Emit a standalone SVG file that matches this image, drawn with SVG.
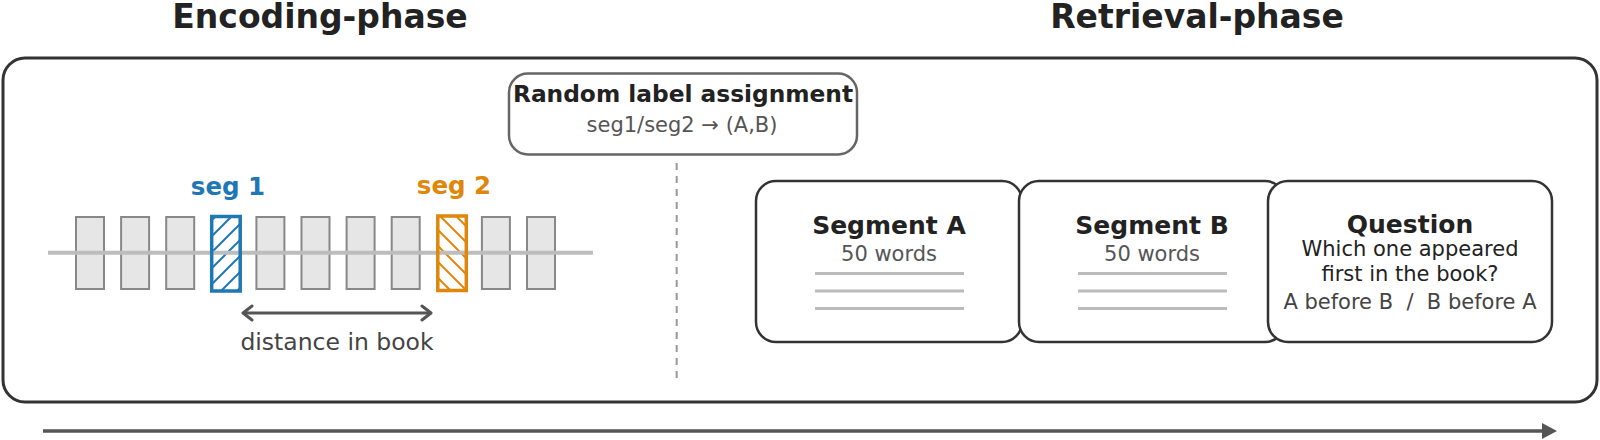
<svg xmlns="http://www.w3.org/2000/svg" width="1600" height="440" viewBox="0 0 1600 440">
<style>
text{font-family:"DejaVu Sans","Liberation Sans",sans-serif;text-anchor:middle}
.phase{font-size:33px;font-weight:bold;fill:#222}
.ttl{font-size:25px;font-weight:bold;fill:#222}
.body{font-size:21px;fill:#555}
.blk{fill:#e6e6e6;stroke:#888;stroke-width:2}
.card{fill:#fff;stroke:#333;stroke-width:2.5}
.wl{stroke:#bbb;stroke-width:3}
</style>
<defs>
<pattern id="hb" patternUnits="userSpaceOnUse" width="16" height="16">
<path d="M-4,4 L4,-4 M0,16 L16,0 M12,20 L20,12" stroke="#1f77b4" stroke-width="2"/>
</pattern>
<pattern id="ho" patternUnits="userSpaceOnUse" width="16" height="16">
<path d="M-4,12 L4,20 M0,0 L16,16 M12,-4 L20,4" stroke="#e0870b" stroke-width="2"/>
</pattern>
</defs>
<rect width="1600" height="440" fill="#fff"/>
<g id="titles">
<text class="phase" x="320" y="28">Encoding-phase</text>
<text class="phase" x="1197" y="28">Retrieval-phase</text>
</g>
<g id="frame"><rect x="3" y="58" width="1594" height="344" rx="22" fill="none" stroke="#333" stroke-width="3"/></g>
<g id="book">
<rect class="blk" x="76" y="217" width="28" height="72"/>
<rect class="blk" x="121.1" y="217" width="28" height="72"/>
<rect class="blk" x="166.2" y="217" width="28" height="72"/>
<rect class="blk" x="256.4" y="217" width="28" height="72"/>
<rect class="blk" x="301.5" y="217" width="28" height="72"/>
<rect class="blk" x="346.6" y="217" width="28" height="72"/>
<rect class="blk" x="391.7" y="217" width="28" height="72"/>
<rect class="blk" x="481.9" y="217" width="28" height="72"/>
<rect class="blk" x="527" y="217" width="28" height="72"/>
<rect x="211.7" y="216.5" width="28.5" height="74.5" fill="#fff"/>
<rect x="211.7" y="216.5" width="28.5" height="74.5" fill="url(#hb)"/>
<rect x="437.8" y="216" width="28.5" height="74.5" fill="#fff"/>
<rect x="437.8" y="216" width="28.5" height="74.5" fill="url(#ho)"/>
<line x1="48" y1="252.7" x2="593" y2="252.7" stroke="#bdbdbd" stroke-width="4"/>
<rect x="211.7" y="216.5" width="28.5" height="74.5" fill="none" stroke="#1f77b4" stroke-width="3.5"/>
<rect x="437.8" y="216" width="28.5" height="74.5" fill="none" stroke="#e0870b" stroke-width="3.5"/>
</g>
<g id="seg1"><text x="228" y="195" style="font-size:24.5px;font-weight:bold;fill:#1f77b4">seg 1</text></g>
<g id="seg2"><text x="454" y="194" style="font-size:24.5px;font-weight:bold;fill:#e0870b">seg 2</text></g>
<g id="distance">
<text x="337" y="350" style="font-size:23.5px;fill:#444">distance in book</text>
</g>
<g id="random">
<rect x="509" y="73.5" width="348" height="81" rx="19" fill="#fff" stroke="#666" stroke-width="2.5"/>
<text x="683" y="101.7" style="font-size:23.3px;font-weight:bold;fill:#222">Random label assignment</text>
<text class="body" x="682" y="131.7">seg1/seg2 → (A,B)</text>
</g>
<g id="segA">
<rect class="card" x="756" y="181" width="266" height="161" rx="20"/>
<text class="ttl" x="889" y="234">Segment A</text>
<text class="body" x="889" y="260.7">50 words</text>
<line class="wl" x1="815" y1="273.5" x2="964" y2="273.5"/>
<line class="wl" x1="815" y1="291" x2="964" y2="291"/>
<line class="wl" x1="815" y1="308.5" x2="964" y2="308.5"/>
</g>
<g id="segB">
<rect class="card" x="1019" y="181" width="266" height="161" rx="20"/>
<text class="ttl" x="1152" y="234">Segment B</text>
<text class="body" x="1152" y="260.7">50 words</text>
<line class="wl" x1="1078" y1="273.5" x2="1227" y2="273.5"/>
<line class="wl" x1="1078" y1="291" x2="1227" y2="291"/>
<line class="wl" x1="1078" y1="308.5" x2="1227" y2="308.5"/>
</g>
<g id="question">
<rect class="card" x="1268" y="181" width="284" height="161" rx="20"/>
<text class="ttl" x="1410" y="233">Question</text>
<text x="1410" y="256" style="font-size:21px;fill:#222">Which one appeared</text>
<text x="1410" y="281" style="font-size:21px;fill:#222">first in the book?</text>
<text x="1410" y="309" style="font-size:21px;fill:#444;white-space:pre">A before B  /  B before A</text>
</g>
<g id="connectors" fill="none" stroke="#555">
<line x1="676.7" y1="163" x2="676.7" y2="378" stroke="#999" stroke-width="2" stroke-dasharray="7,6"/>
<line x1="243" y1="313" x2="431" y2="313" stroke-width="3"/>
<path d="M252,306 L243,313 L252,320 M422,306 L431,313 L422,320" stroke-width="3" stroke-linecap="round" stroke-linejoin="round"/>
<line x1="43" y1="431" x2="1545" y2="431" stroke-width="3.5"/>
<polygon points="1542,423 1557,431 1542,439" fill="#555" stroke="none"/>
</g>
</svg>
